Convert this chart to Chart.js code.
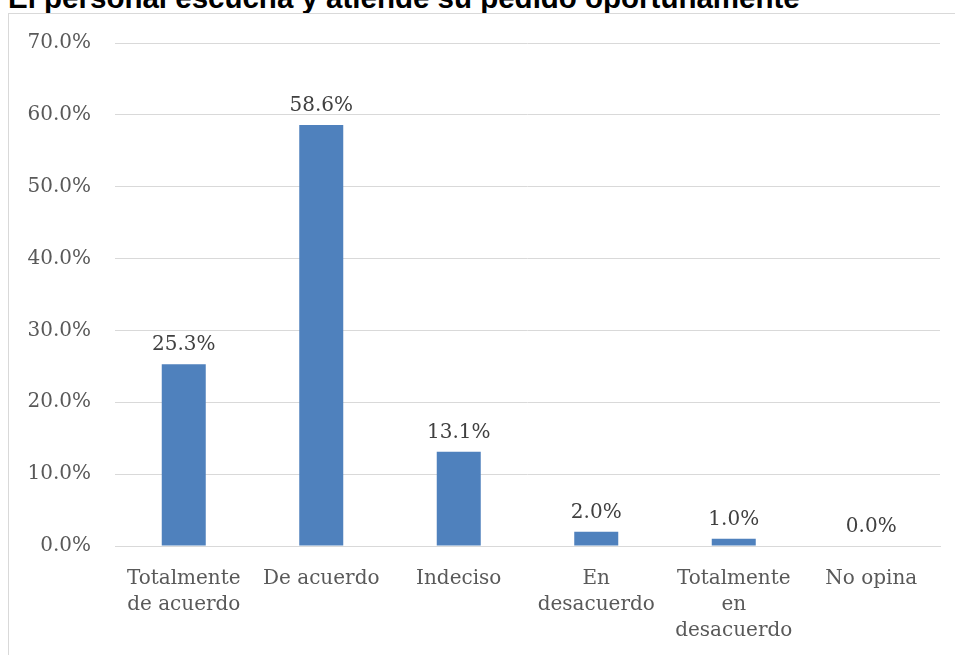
<!DOCTYPE html>
<html>
<head>
<meta charset="utf-8">
<script src="https://cdn.jsdelivr.net/npm/chart.js@4/dist/chart.umd.min.js"></script>
<style>
  html, body { margin: 0; padding: 0; background: #fff; overflow: hidden; }
  body { width: 955px; height: 655px; position: relative; }
  #title {
    position: absolute; left: 8px; top: -19px;
    font: bold 29.5px "Liberation Sans", Arial, sans-serif; color: #000;
    white-space: nowrap;
  }
  #box {
    position: absolute; left: 8px; top: 13px; width: 960px; height: 660px;
    border: 1px solid #d9d9d9; box-sizing: border-box;
  }
  #wrap { position: absolute; left: 9px; top: 14px; width: 946px; height: 641px; }
</style>
</head>
<body>
<div id="title">El personal escucha y atiende su pedido oportunamente</div>
<div id="box"></div>
<div id="wrap"><canvas id="chart"></canvas></div>
<script>
const categories = [
  ["Totalmente", "de acuerdo"],
  ["De acuerdo"],
  ["Indeciso"],
  ["En", "desacuerdo"],
  ["Totalmente", "en", "desacuerdo"],
  ["No opina"]
];
const percentages = [25.3, 58.6, 13.1, 2.0, 1.0, 0.0];
const yTicks = [0, 10, 20, 30, 40, 50, 60, 70];

const serif = "'DejaVu Serif', 'Liberation Serif', serif";

// value labels above each bar
const barLabels = {
  id: "barLabels",
  afterDatasetsDraw(chart) {
    const ctx = chart.ctx;
    const meta = chart.getDatasetMeta(0);
    ctx.save();
    ctx.font = "20px " + serif;
    ctx.fillStyle = "#404040";
    ctx.textAlign = "center";
    ctx.textBaseline = "alphabetic";
    meta.data.forEach((bar, i) => {
      ctx.fillText(percentages[i].toFixed(1) + "%", bar.x, bar.y - 14);
    });
    ctx.restore();
  }
};

new Chart(document.getElementById("chart"), {
  type: "bar",
  data: {
    labels: categories,
    datasets: [{
      data: percentages,
      backgroundColor: "#4f81bd",
      categoryPercentage: 1.0,
      barPercentage: 0.32
    }]
  },
  options: {
    responsive: true,
    maintainAspectRatio: false,
    animation: false,
    layout: { padding: { top: 29, right: 15, bottom: 0, left: 0 } },
    plugins: { legend: { display: false }, tooltip: { enabled: false } },
    scales: {
      x: {
        grid: { display: false, drawTicks: false },
        border: { color: "#d9d9d9", width: 1 },
        ticks: {
          color: "#595959",
          font: { family: serif, size: 20, lineHeight: 1.3 },
          padding: 20,
          maxRotation: 0,
          autoSkip: false
        },
        afterFit: s => { s.height = 109; }
      },
      y: {
        min: 0, max: 70,
        afterBuildTicks: s => { s.ticks = yTicks.map(v => ({ value: v })); },
        grid: { color: "#d9d9d9", lineWidth: 1, drawTicks: false },
        border: { display: false },
        ticks: {
          color: "#595959",
          font: { family: serif, size: 20 },
          padding: 24,
          callback: v => v.toFixed(1) + "%"
        },
        afterFit: s => {
          s.width = 106;
          s.paddingTop = 0;
          s.paddingBottom = 0;
        }
      }
    }
  },
  plugins: [barLabels]
});
</script>
</body>
</html>
